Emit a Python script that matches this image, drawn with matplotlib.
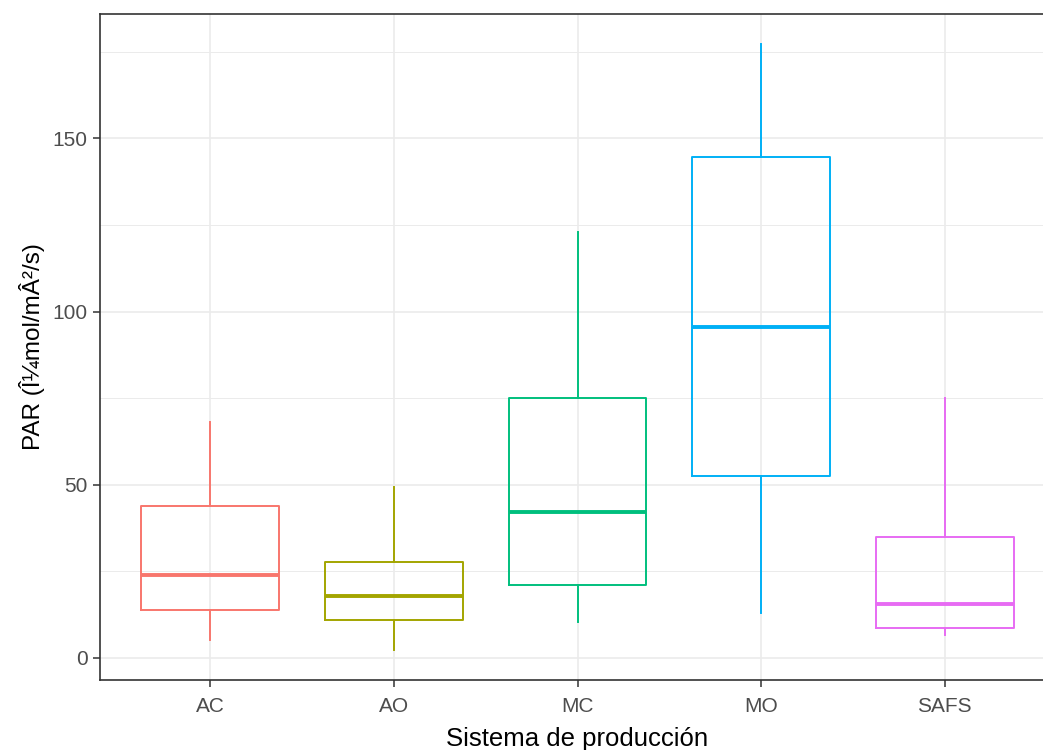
import matplotlib
matplotlib.use('Agg')
import matplotlib.pyplot as plt

# values
sistemas = ['AC', 'AO', 'MC', 'MO', 'SAFS']
whislo = [5.2, 2.3, 10.4, 13.0, 6.6]
q1 = [13.9, 11.0, 21.1, 52.6, 8.7]
med = [24.0, 17.9, 42.2, 95.4, 15.6]
q3 = [43.9, 27.7, 75.1, 144.5, 35.0]
whishi = [68.2, 49.4, 123.1, 177.2, 74.9]
colores = ['#F8766D', '#A3A500', '#00BF7D', '#00B0F6', '#E76BF3']

plt.rcParams['font.family'] = ['Liberation Sans', 'DejaVu Sans']

fig = plt.figure(figsize=(10.43, 7.5), dpi=100)
# panel runs past the right edge, like the cropped reference
ax = fig.add_axes([100 / 1043, 70 / 750, 955 / 1043, 666 / 750])

pos = list(range(1, len(sistemas) + 1))
for i, p in enumerate(pos):
    st = [dict(whislo=whislo[i], q1=q1[i], med=med[i], q3=q3[i],
               whishi=whishi[i], label=sistemas[i])]
    c = colores[i]
    ax.bxp(st, positions=[p], widths=0.75, showfliers=False, showcaps=False,
           boxprops=dict(color=c, linewidth=1.4),
           whiskerprops=dict(color=c, linewidth=1.4),
           medianprops=dict(color=c, linewidth=2.8, solid_capstyle='butt'),
           manage_ticks=False, zorder=3)

lo, hi = min(whislo), max(whishi)
pad = (hi - lo) * 0.05
ax.set_ylim(lo - pad, hi + pad)
ax.set_xlim(0.4, len(sistemas) + 0.6)

ax.set_xticks(pos)
ax.set_xticklabels(sistemas)
ax.set_yticks([0, 50, 100, 150])
ax.set_yticks([25, 75, 125, 175], minor=True)

ax.grid(True, which='major', color='#EBEBEB', linewidth=1.2, zorder=0)
ax.grid(True, which='minor', axis='y', color='#EBEBEB', linewidth=0.7, zorder=0)
ax.set_axisbelow(True)

for s in ax.spines.values():
    s.set_color('#333333')
    s.set_linewidth(1.2)

ax.tick_params(axis='both', which='major', colors='#333333', labelcolor='#4D4D4D',
               labelsize=15, length=5, width=1.1)
ax.tick_params(axis='x', which='major', pad=7)
ax.tick_params(axis='y', which='major', pad=4)
ax.tick_params(axis='y', which='minor', length=0)

ax.set_xlabel('Sistema de producción', fontsize=18.5, color='black', labelpad=8)
ax.set_ylabel('PAR (Î¼mol/mÂ²/s)', fontsize=17.5, color='black', labelpad=5)

fig.savefig('out.png', dpi=100)
